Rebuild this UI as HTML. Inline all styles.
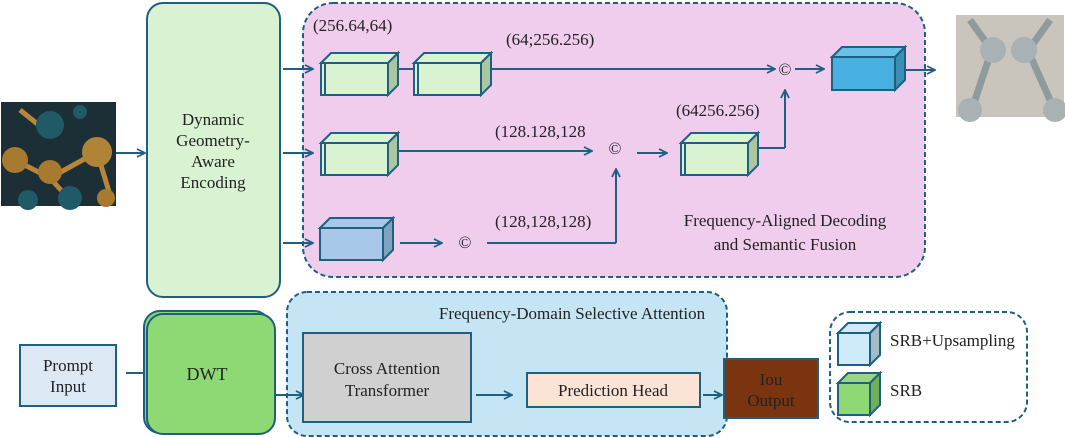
<!DOCTYPE html>
<html><head><meta charset="utf-8"><style>
html,body{margin:0;padding:0;background:#fff;width:1065px;height:438px;overflow:hidden}
svg text{font-family:"Liberation Serif",serif;fill:#222}
</style></head><body>
<svg width="1065" height="438" viewBox="0 0 1065 438" xmlns="http://www.w3.org/2000/svg">
<defs>
<marker id="a" markerWidth="10" markerHeight="10" refX="9" refY="5" orient="auto" markerUnits="userSpaceOnUse">
<path d="M1,1 L9,5 L1,9" fill="none" stroke="#1f5f7f" stroke-width="1.8"/></marker>
</defs>
<g stroke="#1f5f7f" stroke-width="2" fill="none">
<rect x="1" y="102" width="115" height="104" fill="#1c2e36" stroke="none"/>
<g stroke="#b8863a" stroke-width="5"><line x1="15" y1="160" x2="50" y2="178"/><line x1="50" y1="178" x2="97" y2="152"/><line x1="50" y1="178" x2="70" y2="200"/><line x1="97" y1="152" x2="110" y2="195"/><line x1="20" y1="110" x2="45" y2="130"/></g>
<g stroke="none"><circle cx="50" cy="125" r="14" fill="#1f5a66"/><circle cx="15" cy="160" r="13" fill="#a77a30"/><circle cx="50" cy="172" r="12" fill="#a77a30"/><circle cx="97" cy="152" r="15" fill="#b08438"/><circle cx="28" cy="200" r="10" fill="#1f5a66"/><circle cx="70" cy="198" r="12" fill="#1f5a66"/><circle cx="106" cy="198" r="9" fill="#a77a30"/><circle cx="80" cy="112" r="7" fill="#1f5a66"/></g>
<rect x="956" y="15" width="108" height="102" fill="#c9c5bc" stroke="none"/>
<g stroke="#8e9a9c" stroke-width="7"><line x1="970" y1="20" x2="990" y2="48"/><line x1="1050" y1="20" x2="1030" y2="48"/><line x1="990" y1="55" x2="975" y2="100"/><line x1="1030" y1="55" x2="1050" y2="100"/></g>
<g stroke="none" fill="#a8b2b4"><circle cx="993" cy="50" r="13"/><circle cx="1024" cy="50" r="13"/><circle cx="970" cy="110" r="12"/><circle cx="1055" cy="110" r="12"/></g>
<rect x="147" y="3" width="133" height="294" rx="16" fill="#d9f2d2"/>
<rect x="303" y="3" width="622" height="274" rx="30" fill="#f0cdec" stroke-dasharray="5,3"/>
<line x1="283" y1="69" x2="313" y2="69" marker-end="url(#a)"/>
<line x1="283" y1="153" x2="313" y2="153" marker-end="url(#a)"/>
<line x1="283" y1="243" x2="313" y2="243" marker-end="url(#a)"/>
<line x1="116" y1="153" x2="145" y2="153" marker-end="url(#a)"/>
<g id="c1"><path d="M321,63 l10,-10 h67 l-10,10z" fill="#d9f2d2"/><path d="M388,63 l10,-10 v32 l-10,10z" fill="#aac7a0"/><rect x="321" y="63" width="67" height="32" fill="#d9f2d2"/><line x1="325" y1="63" x2="325" y2="95"/></g>
<line x1="398" y1="69" x2="414" y2="69"/>
<use href="#c1" x="93"/>
<use href="#c1" x="0" y="80"/>
<use href="#c1" x="360" y="80"/>
<line x1="491" y1="69" x2="775" y2="69" marker-end="url(#a)"/>
<line x1="398" y1="151" x2="592" y2="151" marker-end="url(#a)"/>
<line x1="637" y1="153" x2="667" y2="153" marker-end="url(#a)"/>
<line x1="758" y1="148" x2="785" y2="148"/><line x1="785" y1="148" x2="785" y2="90" marker-end="url(#a)"/>
<line x1="795" y1="69" x2="824" y2="69" marker-end="url(#a)"/>
<path d="M832,57 l10,-10 h63 l-10,10z" fill="#6ac0e8"/><path d="M895,57 l10,-10 v33 l-10,10z" fill="#3a8fb5"/><rect x="832" y="57" width="63" height="33" fill="#47b0e0"/>
<line x1="905" y1="70" x2="935" y2="70" marker-end="url(#a)"/>
<path d="M320,228 l10,-10 h63 l-10,10z" fill="#a8c8ea"/><path d="M383,228 l10,-10 v32 l-10,10z" fill="#7fa2bf"/><rect x="320" y="228" width="63" height="32" fill="#a8c8ea"/>
<line x1="400" y1="243" x2="442" y2="243" marker-end="url(#a)"/>
<line x1="487" y1="243" x2="616" y2="243"/><line x1="616" y1="243" x2="616" y2="169" marker-end="url(#a)"/>
<rect x="20" y="345" width="96" height="61" fill="#dce9f5"/>
<line x1="126" y1="373" x2="146" y2="373"/>
<rect x="144" y="311" width="126" height="122" rx="16" fill="#8ed973"/>
<rect x="147" y="314" width="128" height="120" rx="16" fill="#8ed973"/>
<rect x="287" y="292" width="440" height="144" rx="20" fill="#c5e5f5" stroke-dasharray="5,3"/>
<line x1="275" y1="395" x2="304" y2="395" marker-end="url(#a)"/>
<rect x="303" y="333" width="168" height="89" fill="#d0d0d0"/>
<line x1="476" y1="395" x2="512" y2="395" marker-end="url(#a)"/>
<rect x="527" y="373" width="173" height="34" fill="#fbe3d6"/>
<line x1="703" y1="395" x2="722" y2="395" marker-end="url(#a)"/>
<rect x="724" y="359" width="94" height="59" fill="#7a3510"/>
<rect x="830" y="312" width="197" height="110" rx="20" fill="#fff" stroke-dasharray="5,3"/>
<path d="M838,333 l10,-10 h32 l-10,10z" fill="#cfeaf8"/><path d="M870,333 l10,-10 v32 l-10,10z" fill="#a3bcc6"/><rect x="838" y="333" width="32" height="32" fill="#cfeaf8"/>
<path d="M838,383 l10,-10 h32 l-10,10z" fill="#9ad683"/><path d="M870,383 l10,-10 v32 l-10,10z" fill="#6fb05a"/><rect x="838" y="383" width="32" height="32" fill="#8ed973"/>
</g>
<g font-size="17">
<text x="213" y="125" text-anchor="middle">Dynamic</text>
<text x="213" y="146" text-anchor="middle">Geometry-</text>
<text x="213" y="167" text-anchor="middle">Aware</text>
<text x="213" y="188" text-anchor="middle">Encoding</text>
<text x="313" y="31">(256.64,64)</text>
<text x="506" y="45">(64;256.256)</text>
<text x="495" y="137">(128.128,128</text>
<text x="495" y="227">(128,128,128)</text>
<text x="676" y="116">(64256.256)</text>
<text x="785" y="75" text-anchor="middle">©</text>
<text x="615" y="154" text-anchor="middle">©</text>
<text x="465" y="248" text-anchor="middle">©</text>
<text x="785" y="226" text-anchor="middle">Frequency-Aligned Decoding</text>
<text x="785" y="250" text-anchor="middle">and Semantic Fusion</text>
<text x="68" y="371" text-anchor="middle">Prompt</text>
<text x="68" y="392" text-anchor="middle">Input</text>
<text x="207" y="380" text-anchor="middle" font-size="18">DWT</text>
<text x="572" y="319" text-anchor="middle">Frequency-Domain Selective Attention</text>
<text x="387" y="374" text-anchor="middle">Cross Attention</text>
<text x="387" y="396" text-anchor="middle">Transformer</text>
<text x="613" y="396" text-anchor="middle">Prediction Head</text>
<text x="771" y="385" text-anchor="middle">Iou</text>
<text x="771" y="406" text-anchor="middle">Output</text>
<text x="890" y="346">SRB+Upsampling</text>
<text x="890" y="396">SRB</text>
</g>
</svg>
</body></html>
